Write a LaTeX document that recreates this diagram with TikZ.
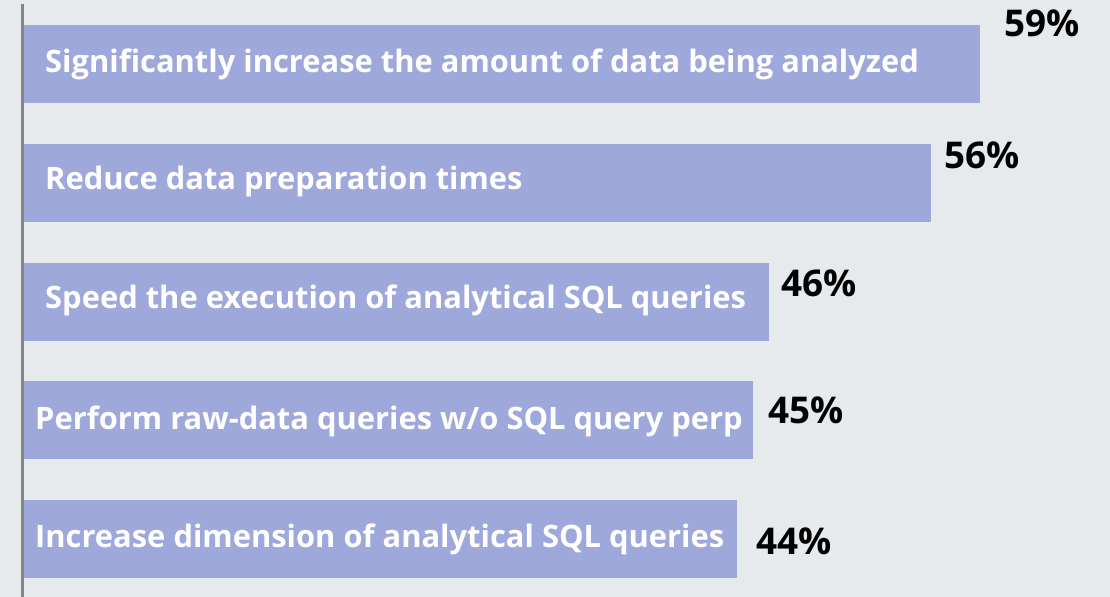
\documentclass[tikz,border=0pt]{standalone}
\usepackage{fontspec}
\setmainfont{Open Sans}
\begin{document}
\begin{tikzpicture}[x=1bp,y=-1bp,
  bar/.style={fill=barblue,draw=none,anchor=north west,inner sep=0pt,minimum height=78bp},
  bartext/.style={anchor=west,inner sep=0pt,text=white,font=\fontsize{31}{36}\selectfont\bfseries},
  pct/.style={anchor=west,inner sep=0pt,text=black,font=\fontsize{37}{42}\selectfont\bfseries}]
\definecolor{bgc}{HTML}{E6EAED}
\definecolor{barblue}{HTML}{9FA8DA}
\definecolor{axisgray}{HTML}{858585}
\fill[bgc] (0,0) rectangle (1110,597);
\useasboundingbox (0,0) rectangle (1110,597);
% bars
\node[bar,minimum width=957bp] (b1) at (23,25) {};
\node[bar,minimum width=908bp] (b2) at (23,144) {};
\node[bar,minimum width=746bp] (b3) at (23,263) {};
\node[bar,minimum width=730bp] (b4) at (23,381) {};
\node[bar,minimum width=714bp] (b5) at (23,500) {};
% bar labels
\node[bartext] (t1) at (45,64) {Significantly increase the amount of data being analyzed};
\node[bartext] (t2) at (45,181) {Reduce data preparation times};
\node[bartext] (t3) at (45,300) {Speed the execution of analytical SQL queries};
\node[bartext] (t4) at (35,421) {Perform raw-data queries w/o SQL query perp};
\node[bartext] (t5) at (35,539) {Increase dimension of analytical SQL queries};
% values
\node[pct] (p1) at (1004,23) {59\%};
\node[pct] (p2) at (944,155) {56\%};
\node[pct] (p3) at (781,283) {46\%};
\node[pct] (p4) at (768,410) {45\%};
\node[pct] (p5) at (756,541) {44\%};
% axis
\coordinate (axtop) at (22,4);
\coordinate (axbot) at (22,597);
\draw[axisgray,line width=3bp] (axtop) -- (axbot);
\end{tikzpicture}
\end{document}
